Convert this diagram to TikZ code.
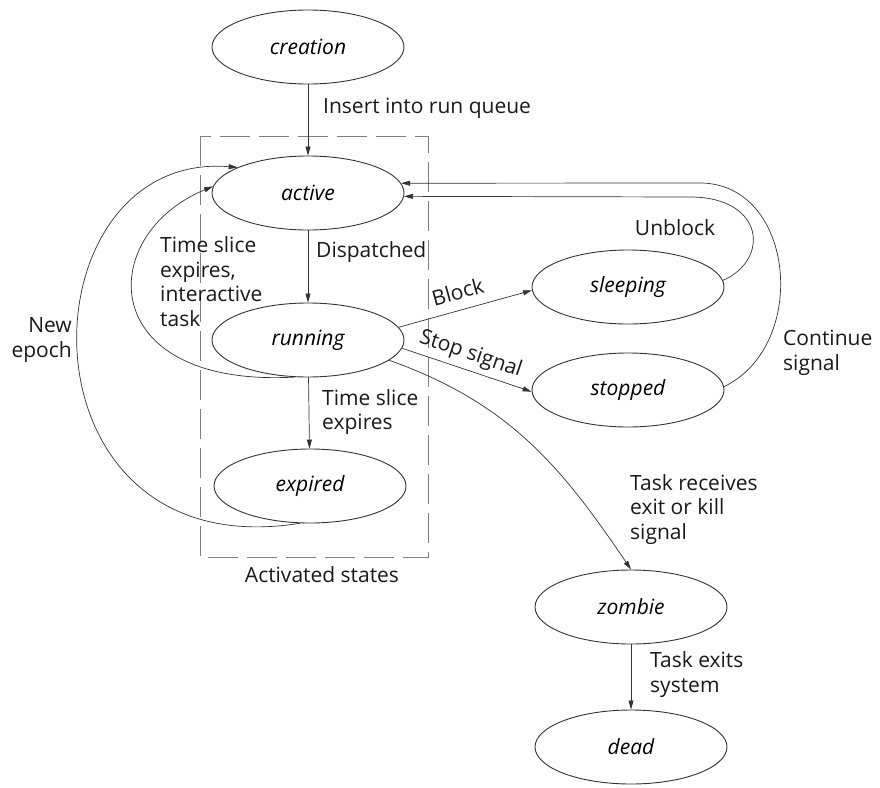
\documentclass[tikz,border=0pt]{standalone}
\usepackage{fontspec}
\setmainfont{Open Sans}
\usetikzlibrary{arrows.meta,shapes.geometric}
\begin{document}
\begin{tikzpicture}[x=1pt,y=-1pt,
  state/.style={ellipse,draw=black!80,line width=0.9pt,minimum width=192pt,minimum height=74pt,inner sep=0pt,font=\fontsize{21}{24.5}\selectfont\itshape},
  lbl/.style={font=\fontsize{21}{24.5}\selectfont,inner sep=0pt,text=black!90},
  arr/.style={draw=black!80,line width=0.7pt,-{Triangle[length=9pt,width=5pt]}},
  groupbox/.style={draw=black!50,line width=0.7pt,dash pattern=on 30pt off 9pt}
  ]
\useasboundingbox (0,0) rectangle (880,787);
\draw[groupbox] (200,136) rectangle (428,557);

\node[state] (creation) at (308,47) {creation};
\node[state] (active) at (308,193) {active};
\node[state] (running) at (308,340) {running};
\node[state] (expired) at (310,486) {expired};
\node[state] (sleeping) at (628,287) {sleeping};
\node[state] (stopped) at (628,390) {stopped};
\node[state] (zombie) at (631,607) {zombie};
\node[state] (dead) at (631,747) {dead};

\coordinate (ub) at (690,197);
\coordinate (cs) at (700,183);

\draw[arr] (creation) -- (active);
\draw[arr] (active) -- (running);
\draw[arr] (running) -- (expired);
\draw[arr] (zombie) -- (dead);
\draw[arr] (running.8) -- node[lbl,sloped,above=10pt,pos=0.48] (lblock) {Block} (sleeping.182);
\draw[arr] (running.-5) -- node[lbl,sloped,above=5pt,pos=0.49] (lstop) {Stop signal} (stopped.181);
\draw[arr] (running.-14) .. controls (509,403) and (561,466) .. (zombie.north);
\draw[arr] (running.-110) .. controls (95,388) and (95,235) .. (active.176);
\draw[arr] (expired.-105) .. controls (10,570) and (20,150) .. (active.160);
\draw[arr] (sleeping.4) .. controls (770,260) and (765,197) .. (ub) -- (active.-2.4);
\draw[arr] (stopped.2) .. controls (810,345) and (795,183) .. (cs) -- (active.6.2);

\node[lbl,anchor=west] (lins) at (323,108) {Insert into run queue};
\node[lbl,anchor=west] (ldisp) at (316,252) {Dispatched};
\node[lbl,anchor=west,align=left] (ltse) at (322,412) {Time slice\\expires};
\node[lbl,anchor=west,align=left] (ltsi) at (160,281.5) {Time slice\\expires,\\interactive\\task};
\node[lbl,anchor=east,align=right] (lepoch) at (72,340) {New\\epoch};
\node[lbl] (lunblock) at (675,228) {Unblock};
\node[lbl,anchor=west,align=left] (lcont) at (783,353) {Continue\\signal};
\node[lbl,anchor=west,align=left] (lkill) at (630,509.5) {Task receives\\exit or kill\\signal};
\node[lbl,anchor=west,align=left] (lexit) at (650,674.5) {Task exits\\system};
\node[lbl] (lact) at (322,575) {Activated states};
\end{tikzpicture}
\end{document}
